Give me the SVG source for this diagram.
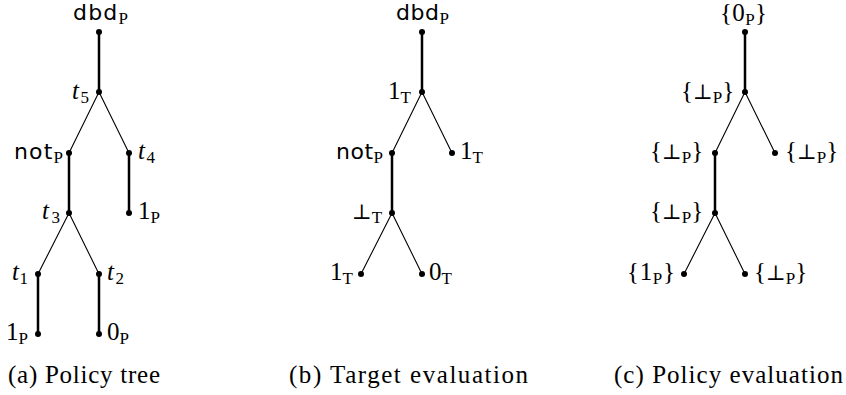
<svg xmlns="http://www.w3.org/2000/svg" width="846" height="395" viewBox="0 0 846 395">
<style>
.e{stroke:#000;fill:none;stroke-linecap:round}
.k{stroke-width:2.5}
.t{stroke-width:1.1}
.d{fill:#000}
text{fill:#000;font-family:"Liberation Serif","DejaVu Serif",serif;font-size:25px}
.sf{font-family:"DejaVu Sans","Liberation Sans",sans-serif;font-size:22px}
.it{font-style:italic}
.sb{font-family:"Liberation Serif","DejaVu Serif",serif;font-size:17px;font-style:normal}
.bt{font-family:"DejaVu Serif",serif;font-size:21px}
.cap{font-size:25px}
</style>
<g id="connectors">
<line class="e k" x1="99" y1="32" x2="99" y2="92"/>
<line class="e t" x1="99" y1="92" x2="69" y2="153"/>
<line class="e t" x1="99" y1="92" x2="129" y2="153"/>
<line class="e k" x1="69" y1="153" x2="69" y2="213"/>
<line class="e k" x1="129" y1="153" x2="129" y2="213"/>
<line class="e t" x1="69" y1="213" x2="38" y2="274"/>
<line class="e t" x1="69" y1="213" x2="99" y2="274"/>
<line class="e k" x1="38" y1="274" x2="38" y2="334"/>
<line class="e k" x1="99" y1="274" x2="99" y2="334"/>

<line class="e k" x1="422" y1="32" x2="422" y2="92"/>
<line class="e t" x1="422" y1="92" x2="392" y2="153"/>
<line class="e t" x1="422" y1="92" x2="452" y2="153"/>
<line class="e k" x1="392" y1="153" x2="392" y2="213"/>
<line class="e t" x1="392" y1="213" x2="361" y2="274"/>
<line class="e t" x1="392" y1="213" x2="422" y2="274"/>

<line class="e k" x1="745" y1="32" x2="745" y2="92"/>
<line class="e t" x1="745" y1="92" x2="715" y2="153"/>
<line class="e t" x1="745" y1="92" x2="775" y2="153"/>
<line class="e k" x1="715" y1="153" x2="715" y2="213"/>
<line class="e t" x1="715" y1="213" x2="684" y2="274"/>
<line class="e t" x1="715" y1="213" x2="745" y2="274"/>
</g>

<!-- tree a -->
<g id="a_dbd"><circle class="d" cx="99" cy="32" r="3"/><text class="sf" x="73" y="20" textLength="55">dbd<tspan class="sb" dy="4">P</tspan></text></g>
<g id="a_t5"><circle class="d" cx="99" cy="92" r="3"/><text class="it" x="72" y="99" textLength="17">t<tspan class="sb" dy="4">5</tspan></text></g>
<g id="a_not"><circle class="d" cx="69" cy="153" r="3"/><text class="sf" x="14" y="159" textLength="49">not<tspan class="sb" dy="4">P</tspan></text></g>
<g id="a_t4"><circle class="d" cx="129" cy="153" r="3"/><text class="it" x="138" y="159" textLength="17">t<tspan class="sb" dy="4">4</tspan></text></g>
<g id="a_t3"><circle class="d" cx="69" cy="213" r="3"/><text class="it" x="42" y="219" textLength="18">t<tspan class="sb" dy="4">3</tspan></text></g>
<g id="a_1p"><circle class="d" cx="129" cy="213" r="3"/><text x="138" y="219">1<tspan class="sb" dy="4">P</tspan></text></g>
<g id="a_t1"><circle class="d" cx="38" cy="274" r="3"/><text class="it" x="12" y="280" textLength="16">t<tspan class="sb" dy="4">1</tspan></text></g>
<g id="a_t2"><circle class="d" cx="99" cy="274" r="3"/><text class="it" x="107" y="280" textLength="17">t<tspan class="sb" dy="4">2</tspan></text></g>
<g id="a_1pb"><circle class="d" cx="38" cy="334" r="3"/><text x="6" y="340">1<tspan class="sb" dy="4">P</tspan></text></g>
<g id="a_0p"><circle class="d" cx="99" cy="334" r="3"/><text x="107" y="340">0<tspan class="sb" dy="4">P</tspan></text></g>

<!-- tree b -->
<g id="b_dbd"><circle class="d" cx="422" cy="32" r="3"/><text class="sf" x="396" y="20" textLength="53">dbd<tspan class="sb" dy="4">P</tspan></text></g>
<g id="b_1t"><circle class="d" cx="422" cy="92" r="3"/><text x="388" y="99">1<tspan class="sb" dy="4">T</tspan></text></g>
<g id="b_not"><circle class="d" cx="392" cy="153" r="3"/><text class="sf" x="336" y="159" textLength="47">not<tspan class="sb" dy="4">P</tspan></text></g>
<g id="b_1tr"><circle class="d" cx="452" cy="153" r="3"/><text x="460" y="159">1<tspan class="sb" dy="4">T</tspan></text></g>
<g id="b_bot"><circle class="d" cx="392" cy="213" r="3"/><text x="352" y="219"><tspan class="bt">⊥</tspan><tspan class="sb" dy="4">T</tspan></text></g>
<g id="b_1tl"><circle class="d" cx="361" cy="274" r="3"/><text x="330" y="280">1<tspan class="sb" dy="4">T</tspan></text></g>
<g id="b_0t"><circle class="d" cx="422" cy="274" r="3"/><text x="429" y="280">0<tspan class="sb" dy="4">T</tspan></text></g>

<!-- tree c -->
<g id="c_0p"><circle class="d" cx="745" cy="32" r="3"/><text x="720" y="21" textLength="47">{0<tspan class="sb" dy="4">P</tspan><tspan dy="-4">}</tspan></text></g>
<g id="c_b1"><circle class="d" cx="745" cy="92" r="3"/><text x="681" y="99">{<tspan class="bt">⊥</tspan><tspan class="sb" dy="4">P</tspan><tspan dy="-4">}</tspan></text></g>
<g id="c_b2"><circle class="d" cx="715" cy="153" r="3"/><text x="650" y="159">{<tspan class="bt">⊥</tspan><tspan class="sb" dy="4">P</tspan><tspan dy="-4">}</tspan></text></g>
<g id="c_b3"><circle class="d" cx="775" cy="153" r="3"/><text x="785" y="159">{<tspan class="bt">⊥</tspan><tspan class="sb" dy="4">P</tspan><tspan dy="-4">}</tspan></text></g>
<g id="c_b4"><circle class="d" cx="715" cy="213" r="3"/><text x="650" y="219">{<tspan class="bt">⊥</tspan><tspan class="sb" dy="4">P</tspan><tspan dy="-4">}</tspan></text></g>
<g id="c_1p"><circle class="d" cx="684" cy="274" r="3"/><text x="627" y="280" textLength="48">{1<tspan class="sb" dy="4">P</tspan><tspan dy="-4">}</tspan></text></g>
<g id="c_b5"><circle class="d" cx="745" cy="274" r="3"/><text x="754" y="280">{<tspan class="bt">⊥</tspan><tspan class="sb" dy="4">P</tspan><tspan dy="-4">}</tspan></text></g>

<g id="captions">
<text class="cap" x="8" y="383" textLength="152">(a) Policy tree</text>
<text class="cap" x="289" y="383" textLength="239">(b) Target evaluation</text>
<text class="cap" x="614" y="383" textLength="229">(c) Policy evaluation</text>
</g>
</svg>
